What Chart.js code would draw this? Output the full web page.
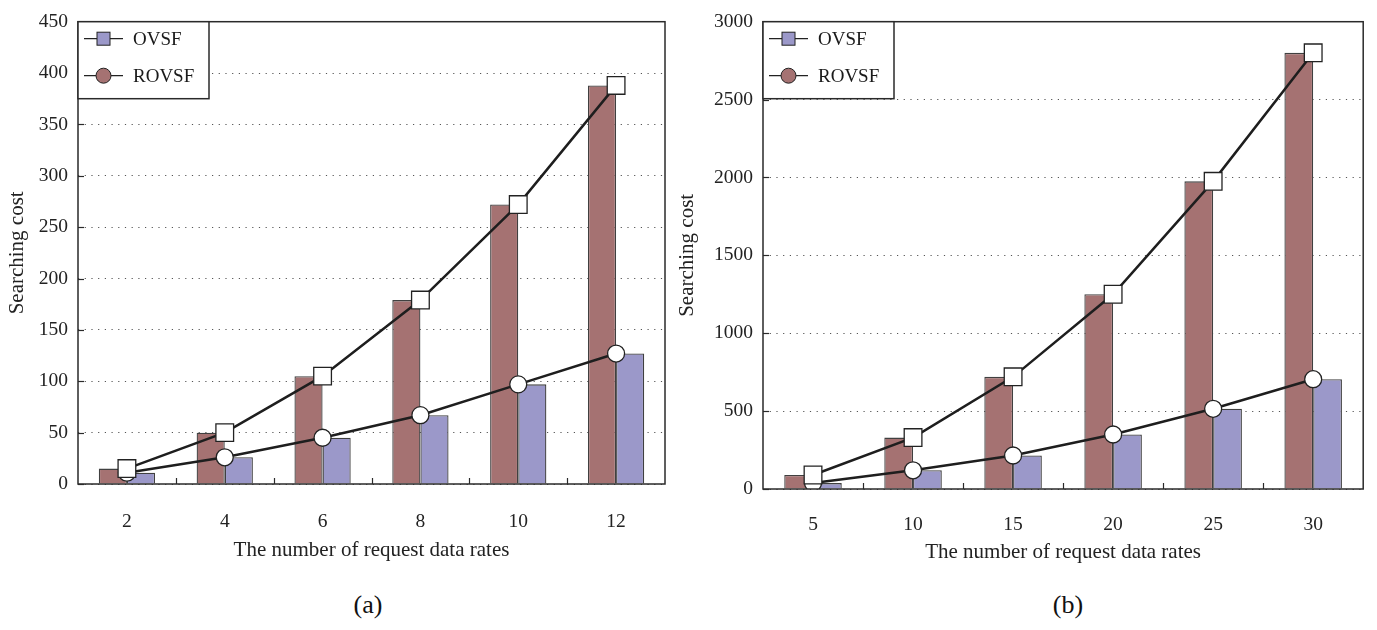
<!DOCTYPE html>
<html>
<head>
<meta charset="utf-8">
<script src="https://cdn.jsdelivr.net/npm/chart.js@4.4.1/dist/chart.umd.min.js"></script>
<style>
  body { margin: 0; background: #fff; width: 1377px; height: 630px; position: relative; overflow: hidden; font-family: "Liberation Serif", serif; }
  .panel { position: absolute; top: 0; }
  .cap { position: absolute; top: 590px; width: 80px; text-align: center; font-size: 26px; color: #111; }
</style>
</head>
<body>
<div class="panel" style="left:0"><canvas id="chartA" width="680" height="580"></canvas></div>
<div class="panel" style="left:670px"><canvas id="chartB" width="707" height="580"></canvas></div>
<div class="cap" style="left:328px">(a)</div>
<div class="cap" style="left:1028px">(b)</div>
<script>
// panel (a)
const ratesA = ["2", "4", "6", "8", "10", "12"];
const rovsfA = [15, 50, 105, 179, 272, 388];
const ovsfA = [11, 26, 45, 67, 97, 127];
const yTicksA = [0, 50, 100, 150, 200, 250, 300, 350, 400, 450];

// panel (b)
const ratesB = ["5", "10", "15", "20", "25", "30"];
const rovsfB = [90, 330, 720, 1250, 1975, 2800];
const ovsfB = [38, 120, 215, 350, 515, 705];
const yTicksB = [0, 500, 1000, 1500, 2000, 2500, 3000];

const legendNames = ["OVSF", "ROVSF"];

const BROWN = "#a57272";
const PURPLE = "#9b98c9";
const INK = "#1e1e1e";
const fontTick = { family: "Liberation Serif", size: 19.5 };
const fontTitle = { family: "Liberation Serif", size: 21 };

// frame, little inward ticks and the boxed legend
const panelDeco = {
  id: "panelDeco",
  afterDraw(chart) {
    const { ctx, chartArea: a, scales } = chart;
    const x = scales.x, y = scales.y;
    ctx.save();
    ctx.strokeStyle = "#2a2a2a";
    ctx.lineWidth = 1.5;
    ctx.strokeRect(a.left, a.top, a.right - a.left, a.bottom - a.top);

    ctx.lineWidth = 1.2;
    for (let i = 1; i < x.getLabels().length; i++) {
      const px = Math.round(x.getPixelForValue(i - 0.5)) + 0.5;
      ctx.beginPath();
      ctx.moveTo(px, a.bottom);
      ctx.lineTo(px, a.bottom - 6);
      ctx.stroke();
    }
    y.ticks.forEach(t => {
      const py = Math.round(y.getPixelForValue(t.value)) + 0.5;
      ctx.beginPath();
      ctx.moveTo(a.left, py);
      ctx.lineTo(a.left + 6, py);
      ctx.stroke();
    });

    // legend box
    const lx = a.left, ly = a.top, lw = 131, lh = 77;
    ctx.fillStyle = "#fff";
    ctx.fillRect(lx, ly, lw, lh);
    ctx.lineWidth = 1.5;
    ctx.strokeRect(lx, ly, lw, lh);
    const rows = [ly + 17, ly + 54];
    ctx.font = "19px 'Liberation Serif'";
    ctx.textBaseline = "middle";
    rows.forEach((ry, i) => {
      ctx.strokeStyle = "#222";
      ctx.lineWidth = 1.2;
      ctx.beginPath();
      ctx.moveTo(lx + 6, ry);
      ctx.lineTo(lx + 45, ry);
      ctx.stroke();
      ctx.lineWidth = 1;
      if (i === 0) {
        ctx.fillStyle = PURPLE;
        ctx.fillRect(lx + 19, ry - 6.5, 13, 13);
        ctx.strokeRect(lx + 19, ry - 6.5, 13, 13);
      } else {
        ctx.fillStyle = BROWN;
        ctx.beginPath();
        ctx.arc(lx + 25.5, ry, 7.5, 0, Math.PI * 2);
        ctx.fill();
        ctx.stroke();
      }
      ctx.fillStyle = "#1a1a1a";
      ctx.fillText(legendNames[i], lx + 55, ry + 1);
    });
    ctx.restore();
  }
};

function makeChart(id, labels, tall, short, yTicks, pad, yWidth, yTitlePad, xHeight, tickPad, titlePad) {
  return new Chart(document.getElementById(id), {
    type: "bar",
    data: {
      labels: labels,
      datasets: [
        {
          type: "line", data: tall, order: 0,
          borderColor: INK, borderWidth: 2.5,
          pointStyle: "rect", pointRadius: 12.5,
          pointBackgroundColor: "#fff", pointBorderColor: "#222", pointBorderWidth: 1.3
        },
        {
          type: "line", data: short, order: 0,
          borderColor: INK, borderWidth: 2.5,
          pointStyle: "circle", pointRadius: 8.5,
          pointBackgroundColor: "#fff", pointBorderColor: "#222", pointBorderWidth: 1.3
        },
        {
          type: "bar", data: tall, order: 1,
          backgroundColor: BROWN, borderColor: "#404040", borderWidth: 1.3,
          barPercentage: 1, categoryPercentage: 0.575
        },
        {
          type: "bar", data: short, order: 1,
          backgroundColor: PURPLE, borderColor: "#404040", borderWidth: 1.3,
          barPercentage: 1, categoryPercentage: 0.575
        }
      ]
    },
    options: {
      responsive: false,
      animation: false,
      layout: { padding: pad },
      plugins: { legend: { display: false }, tooltip: { enabled: false } },
      scales: {
        x: {
          offset: true,
          grid: { display: false, drawTicks: false },
          border: { display: false },
          ticks: { padding: tickPad, color: "#222", font: fontTick, maxRotation: 0 },
          title: { display: true, text: "The number of request data rates", color: "#222", font: fontTitle, padding: { top: 0, bottom: titlePad } },
          afterFit(s) { s.height = xHeight; }
        },
        y: {
          min: 0,
          max: yTicks[yTicks.length - 1],
          afterBuildTicks(s) { s.ticks = yTicks.map(v => ({ value: v })); },
          grid: { color: "#555", lineWidth: 1, drawTicks: false },
          border: { display: false, dash: [1.2, 5.5] },
          ticks: { padding: 10, color: "#222", font: fontTick, callback: v => String(v) },
          title: { display: true, text: "Searching cost", color: "#222", font: fontTitle, padding: { top: yTitlePad, bottom: 0 } },
          afterFit(s) { s.width = yWidth; }
        }
      }
    },
    plugins: [panelDeco]
  });
}

makeChart("chartA", ratesA, rovsfA, ovsfA, yTicksA, { left: 0, right: 15, top: 16, bottom: 0 }, 78, 5, 96, 26, 17);
makeChart("chartB", ratesB, rovsfB, ovsfB, yTicksB, { left: 0, right: 9, top: 19, bottom: 0 }, 93, 5, 91, 24, 15);
</script>
</body>
</html>
